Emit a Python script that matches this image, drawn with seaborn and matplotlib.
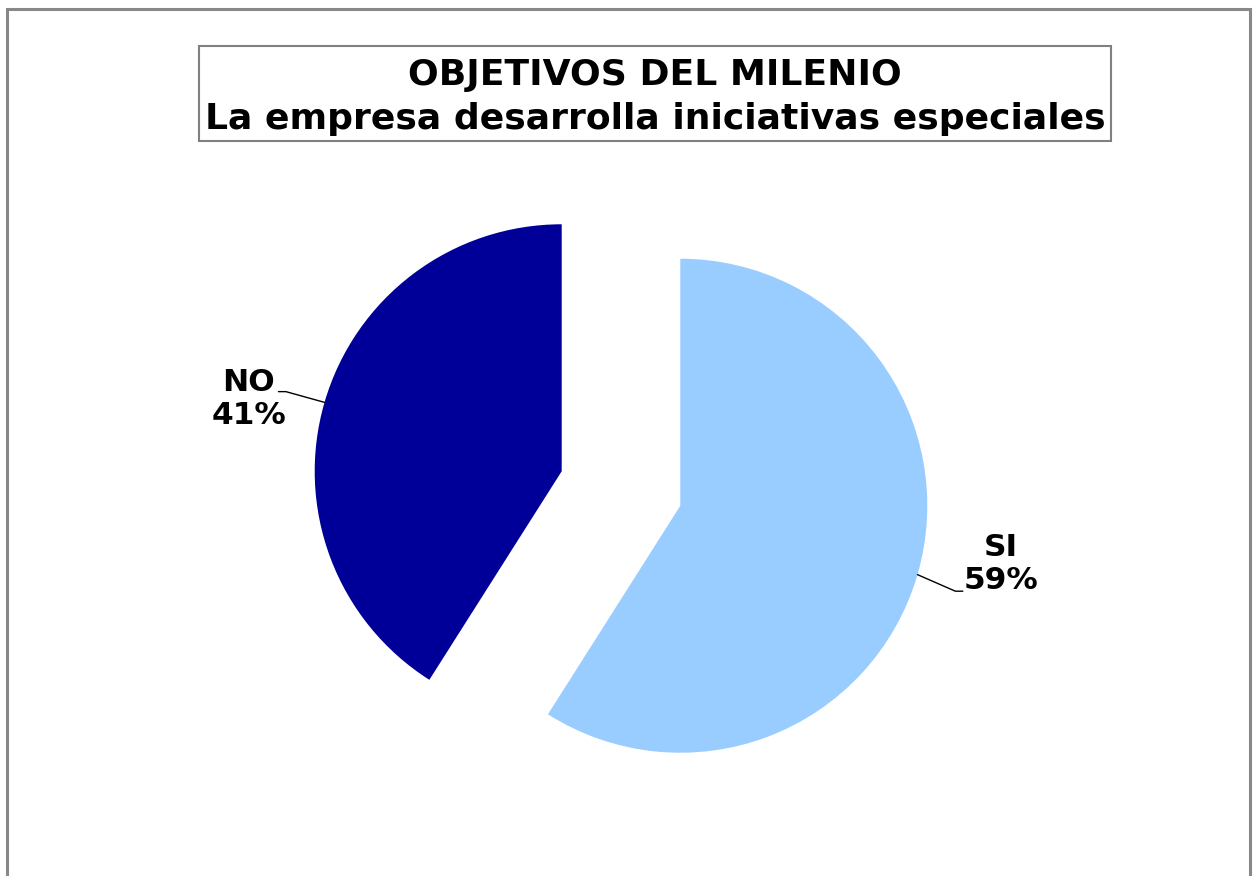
import numpy as np
import matplotlib
matplotlib.use('Agg')
import matplotlib.pyplot as plt
import matplotlib.patches as mpatches
import seaborn as sns

# Data
categories = ['SI', 'NO']
percent = [59, 41]
colors = ['#99CCFF', '#000099']
title_lines = ['OBJETIVOS DEL MILENIO', 'La empresa desarrolla iniciativas especiales']

sns.set_theme(style='white')
plt.rcParams['font.family'] = ['DejaVu Sans']
plt.rcParams['text.color'] = 'black'

W, H = 1256, 876
fig = plt.figure(figsize=(W / 100, H / 100), dpi=100)
fig.patch.set_facecolor('white')

# pie geometry (pixels): centre of unexploded pie and radius
cx, cy, r = 621, 488.5, 247
ax = fig.add_axes([0, 0, 1, 1])

explode = 0.25
wedges, _ = ax.pie(percent, colors=colors, startangle=90, counterclock=False,
                   explode=[explode] * len(percent), radius=1.0,
                   wedgeprops=dict(linewidth=0))
ax.set_aspect('auto')
ax.set_xlim(-cx / r, (W - cx) / r)
ax.set_ylim(-(H - cy) / r, cy / r)
ax.axis('off')

# labels with leader lines: (distance, angle) of label centre, knee offset
label_pos = {'SI': (1.32, -10.3, (-0.155, -0.11)), 'NO': (1.30, 167.0, (0.12, 0.03))}
for w, cat, p in zip(wedges, categories, percent):
    mid = np.deg2rad((w.theta1 + w.theta2) / 2)
    ox, oy = explode * np.cos(mid), explode * np.sin(mid)
    ex, ey = ox + np.cos(mid), oy + np.sin(mid)
    dist, ang, (dx, dy) = label_pos[cat]
    a = np.deg2rad(ang)
    tx, ty = ox + dist * np.cos(a), oy + dist * np.sin(a)
    ax.text(tx, ty, f'{cat}\n{p}%', ha='center', va='center', fontsize=22.5,
            fontweight='bold', linespacing=1.2, color='black')
    side = 1 if np.cos(mid) > 0 else -1
    kx, ky = tx + dx, ty + dy
    ax.plot([ex, kx - side * 0.03, kx], [ey, ky, ky], color='black', lw=1.0)

# title box
bx0, by0, bx1, by1 = 199, 46, 1111, 141
fig.patches.append(mpatches.Rectangle((bx0 / W, 1 - by1 / H), (bx1 - bx0) / W, (by1 - by0) / H,
                                      transform=fig.transFigure, fill=False,
                                      edgecolor='#808080', lw=1.5))
fig.text((bx0 + bx1) / 2 / W, 1 - 75 / H, title_lines[0], ha='center', va='center',
         fontsize=26, fontweight='bold', color='black')
fig.text((bx0 + bx1) / 2 / W, 1 - 119 / H, title_lines[1], ha='center', va='center',
         fontsize=26, fontweight='bold', color='black')

# outer frame
fig.patches.append(mpatches.Rectangle((7 / W, -0.02), (1250 - 7) / W, 1.02 - 9 / H,
                                      transform=fig.transFigure, fill=False,
                                      edgecolor='#888888', lw=2.2))

fig.savefig('out.png', dpi=100, facecolor='white')
